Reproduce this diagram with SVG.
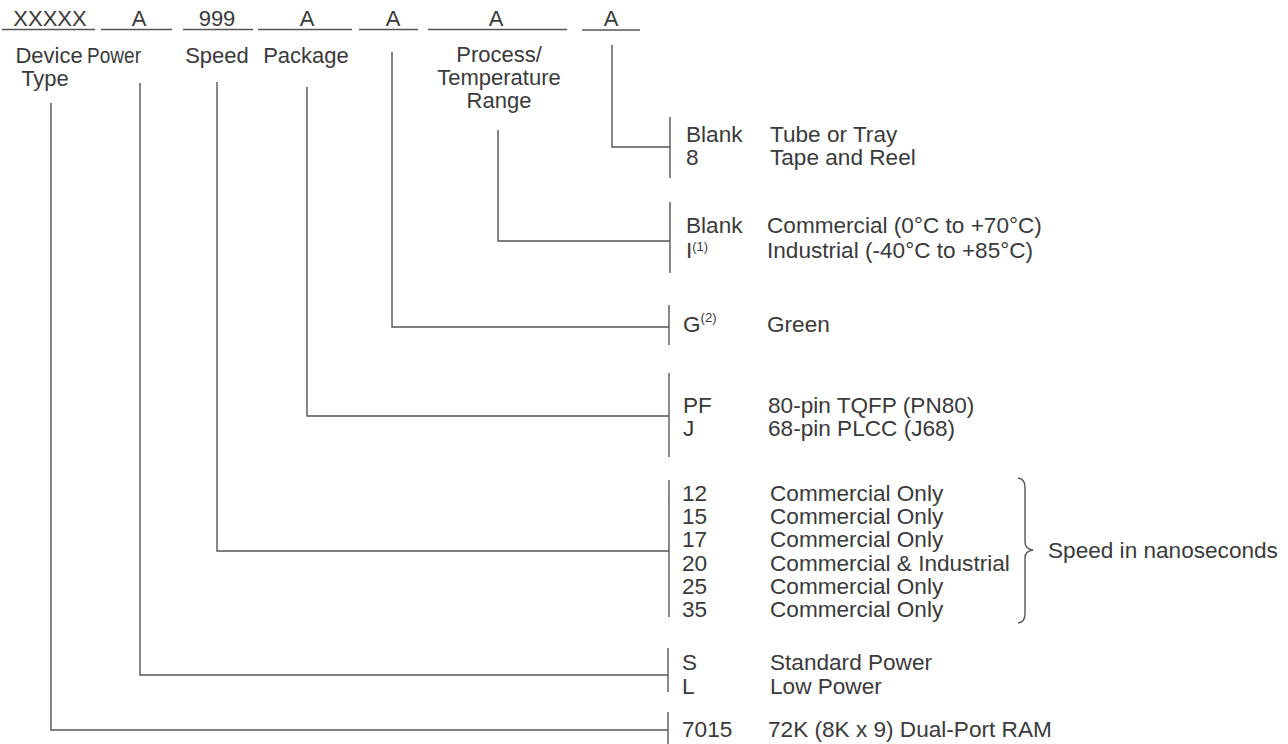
<svg xmlns="http://www.w3.org/2000/svg" width="1288" height="744" viewBox="0 0 1288 744">
<style>
text{font-family:"Liberation Sans",Arial,sans-serif;font-size:22px;fill:#3a3a3a}
.r{font-size:22.6px}
.m{text-anchor:middle}
.sup{font-size:13px}
line,path,polyline{stroke:#555;stroke-width:1.4;fill:none}
</style>
<rect width="1288" height="744" fill="#fff"/>
<g id="header">
<text class="m" x="50" y="26">XXXXX</text>
<text class="m" x="139" y="26">A</text>
<text class="m" x="217" y="26">999</text>
<text class="m" x="307" y="26">A</text>
<text class="m" x="393" y="26">A</text>
<text class="m" x="496" y="26">A</text>
<text class="m" x="611" y="26">A</text>
<line x1="2" y1="29.5" x2="95" y2="29.5"/>
<line x1="101" y1="29.5" x2="172" y2="29.5"/>
<line x1="183" y1="29.5" x2="253" y2="29.5"/>
<line x1="258" y1="29.5" x2="352" y2="29.5"/>
<line x1="359" y1="29.5" x2="418" y2="29.5"/>
<line x1="428" y1="29.5" x2="567" y2="29.5"/>
<line x1="582" y1="30" x2="640" y2="30"/>
</g>
<g id="field-labels">
<text class="m" x="49" y="63">Device</text>
<text class="m" x="45" y="86">Type</text>
<text class="m" x="114" y="63" textLength="54" lengthAdjust="spacingAndGlyphs">Power</text>
<text class="m" x="217" y="63">Speed</text>
<text class="m" x="306" y="63">Package</text>
<text class="m" x="499" y="62">Process/</text>
<text class="m" x="499" y="85">Temperature</text>
<text class="m" x="499" y="108">Range</text>
</g>
<g id="connectors">
<polyline points="612,45 612,147 670,147"/>
<polyline points="498,130 498,241 670,241"/>
<polyline points="392,52 392,327 669,327"/>
<polyline points="307,87 307,416 669,416"/>
<polyline points="217,82 217,551 669,551"/>
<polyline points="140,83 140,675 668,675"/>
<polyline points="51,103 51,730 668,730"/>
</g>
<g id="packing">
<line x1="670" y1="117" x2="670" y2="178"/>
<text class="r" x="686" y="142">Blank</text>
<text class="r" x="686" y="165">8</text>
<text class="r" x="770" y="142">Tube or Tray</text>
<text class="r" x="770" y="165">Tape and Reel</text>
</g>
<g id="temperature">
<line x1="670" y1="202" x2="670" y2="273"/>
<text class="r" x="686" y="233">Blank</text>
<text class="r" x="686" y="258">I<tspan class="sup" dy="-7">(1)</tspan></text>
<text class="r" x="767" y="233">Commercial (0°C to +70°C)</text>
<text class="r" x="767" y="258">Industrial (-40°C to +85°C)</text>
</g>
<g id="green">
<line x1="669" y1="305" x2="669" y2="345"/>
<text class="r" x="683" y="332">G<tspan class="sup" dy="-10">(2)</tspan></text>
<text class="r" x="767" y="332">Green</text>
</g>
<g id="package">
<line x1="669" y1="373" x2="669" y2="457"/>
<text class="r" x="683" y="413">PF</text>
<text class="r" x="683" y="436">J</text>
<text class="r" x="768" y="413">80-pin TQFP (PN80)</text>
<text class="r" x="768" y="436">68-pin PLCC (J68)</text>
</g>
<g id="speed">
<line x1="669" y1="480" x2="669" y2="617"/>
<text class="r" x="682" y="501">12</text>
<text class="r" x="682" y="524">15</text>
<text class="r" x="682" y="547">17</text>
<text class="r" x="682" y="571">20</text>
<text class="r" x="682" y="594">25</text>
<text class="r" x="682" y="617">35</text>
<text class="r" x="770" y="501">Commercial Only</text>
<text class="r" x="770" y="524">Commercial Only</text>
<text class="r" x="770" y="547">Commercial Only</text>
<text class="r" x="770" y="571">Commercial &amp; Industrial</text>
<text class="r" x="770" y="594">Commercial Only</text>
<text class="r" x="770" y="617">Commercial Only</text>
<path d="M1018,478 Q1025,479 1025,487 L1025,542 Q1025,549 1033,550 Q1025,551 1025,558 L1025,614 Q1025,622 1018,623"/>
<text class="r" x="1048" y="558">Speed in nanoseconds</text>
</g>
<g id="power">
<line x1="668" y1="648" x2="668" y2="692"/>
<text class="r" x="682" y="670">S</text>
<text class="r" x="682" y="694">L</text>
<text class="r" x="770" y="670">Standard Power</text>
<text class="r" x="770" y="694">Low Power</text>
</g>
<g id="device">
<line x1="668" y1="712" x2="668" y2="744"/>
<text class="r" x="682" y="737">7015</text>
<text class="r" x="768" y="737">72K (8K x 9) Dual-Port RAM</text>
</g>
</svg>
